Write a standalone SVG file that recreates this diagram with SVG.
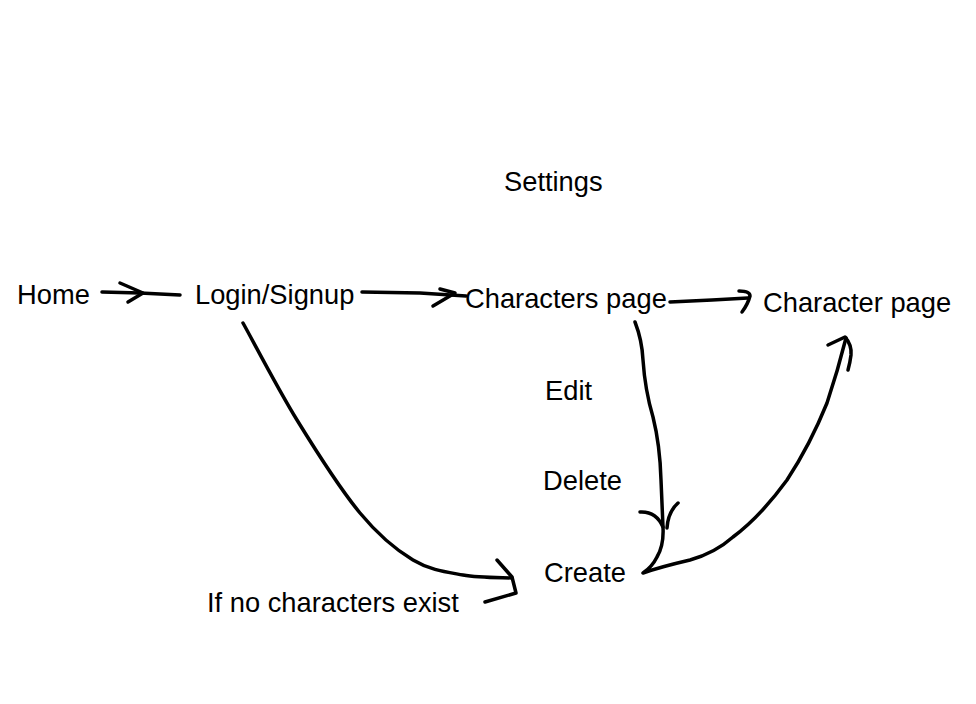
<svg xmlns="http://www.w3.org/2000/svg" width="976" height="704" viewBox="0 0 976 704">
<style>
text{font-family:"Liberation Sans",Arial,sans-serif;font-size:27.3px;fill:#000}
.c{fill:none;stroke:#000;stroke-width:3.5;stroke-linecap:round;stroke-linejoin:round}
</style>
<rect width="976" height="704" fill="#fff"/>
<g id="settings"><text x="504" y="191">Settings</text></g>
<g id="home"><text x="17" y="304">Home</text></g>
<g id="login"><text x="195" y="304">Login/Signup</text></g>
<g id="characters-page"><text x="465" y="308">Characters page</text></g>
<g id="character-page"><text x="763" y="312">Character page</text></g>
<g id="edit"><text x="545" y="400">Edit</text></g>
<g id="delete"><text x="543" y="490">Delete</text></g>
<g id="create"><text x="544" y="582">Create</text></g>
<g id="no-chars"><text x="207" y="612">If no characters exist</text></g>
<g id="connectors">
<path class="c" d="M102,292 L140,293 L180,295"/>
<path class="c" d="M120,283 L143,293 L128,302"/>
<path class="c" d="M362,292 L420,293 L466,296"/>
<path class="c" d="M440,289 L455,293 L433,306"/>
<path class="c" d="M670,302 L712,300 L748,298"/>
<path class="c" d="M739,291 Q750,291 750,296 Q748,304 742,312"/>
<path class="c" d="M635,322 Q642,340 643,360 Q645,390 653,417 Q660,445 661,480 L663,527 Q664,545 657,557 Q652,567 643,573 Q660,567 690,560 Q715,553 733,537 Q760,517 787,480 Q810,445 827,403 Q838,370 846,338"/>
<path class="c" d="M640,512 Q656,511 663,527"/>
<path class="c" d="M678,503 Q668,512 667,528"/>
<path class="c" d="M828,345 L845,337 Q852,345 851,355 Q850,363 848,370"/>
<path class="c" d="M243,323 C252,339 277.5,388.3 297,420 C316.5,451.7 340.7,489.7 360,513 C379.3,536.3 395.8,549.7 413,560 C430.2,570.3 446.5,572 463,575 C479.5,578 503.8,577.5 512,578"/>
<path class="c" d="M497,560 L512,577 L516,593 L485,602"/>
</g>
</svg>
